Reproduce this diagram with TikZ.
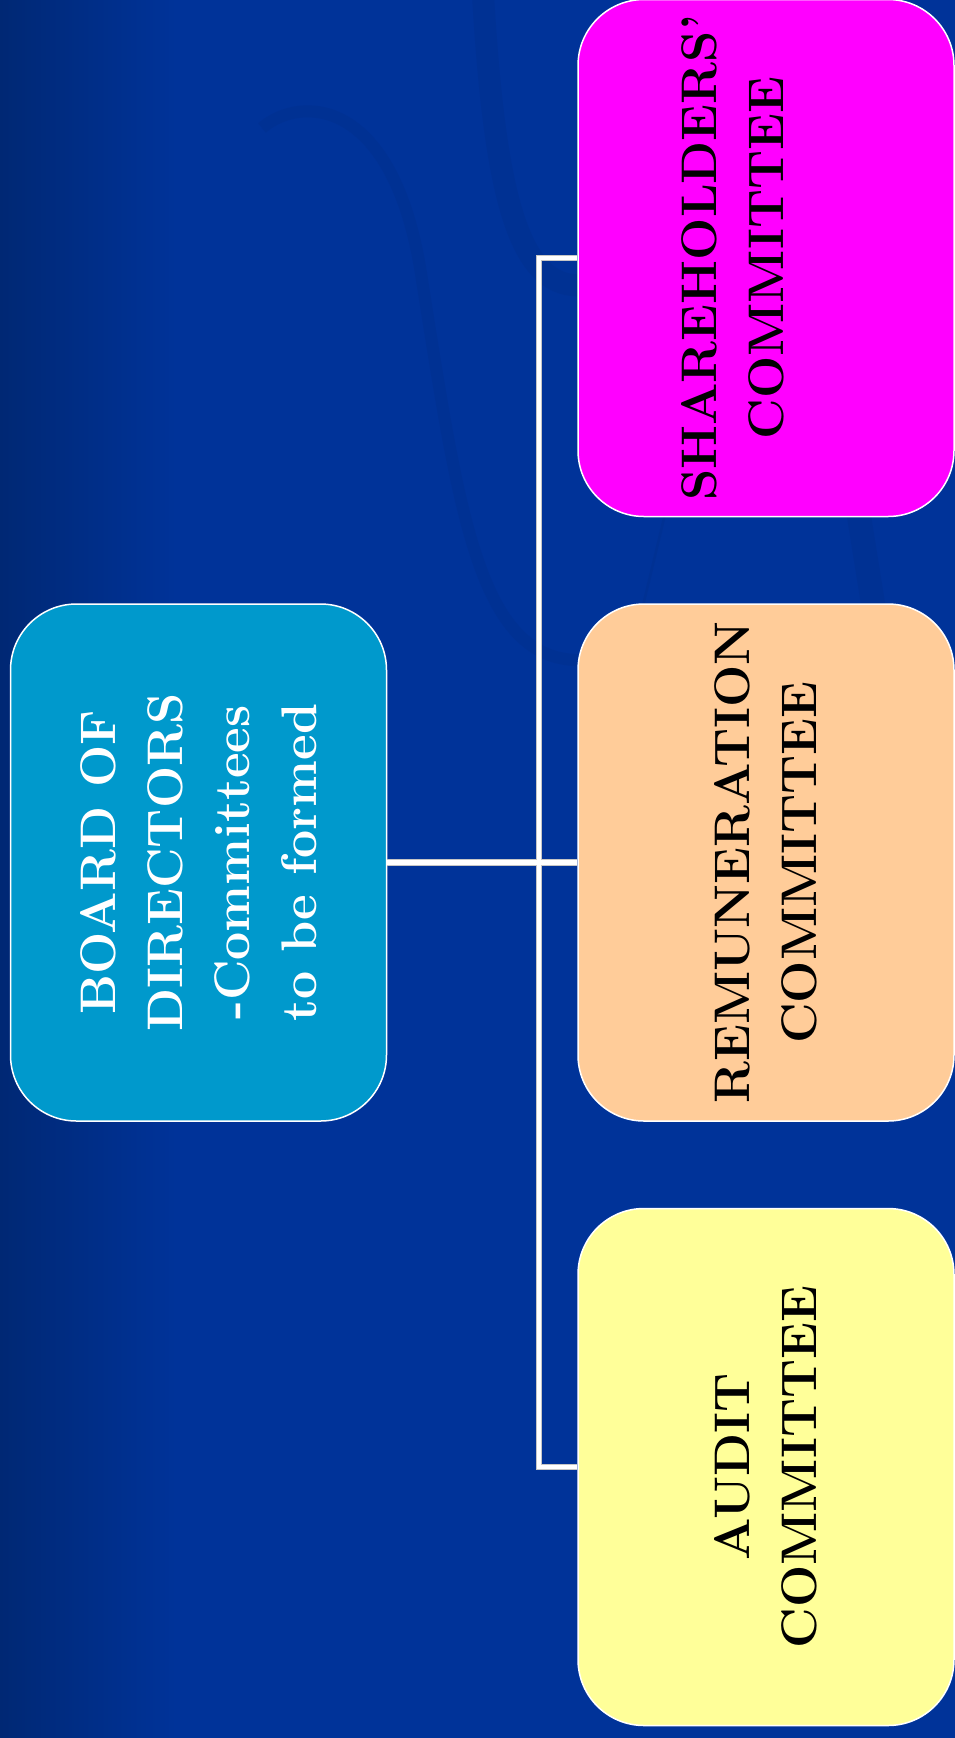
\documentclass[tikz,border=0pt]{standalone}
\usetikzlibrary{positioning}

\definecolor{slideblue}{HTML}{003399}
\definecolor{slidedark}{HTML}{002874}
\definecolor{swoosh}{HTML}{003193}
\definecolor{boardcol}{HTML}{0099CC}
\definecolor{sharecol}{HTML}{FF00FF}
\definecolor{remcol}{HTML}{FFCC99}
\definecolor{auditcol}{HTML}{FFFF99}

\tikzset{
	every picture/.style={line width=0.75pt},
	box/.style={rotate=90, draw=white, line width=1.5pt, rounded corners=66pt,
		minimum width=517pt, minimum height=376pt, inner sep=0pt, align=center,
		font=\fontsize{50}{67}\selectfont\bfseries},
	link/.style={line width=#1, line cap=butt}
}

\begin{document}
\begin{tikzpicture}[x=1pt,y=-1pt]
		\useasboundingbox (0,0) rectangle (955,1738);

		% background
		\fill[left color=slidedark, right color=slideblue] (0,0) rectangle (176,1738);
		\fill[slideblue] (175,0) rectangle (955,1738);
		\draw[swoosh, line width=22pt] (483,-5) .. controls (495,200) and (520,292) .. (585,285);
		\draw[swoosh, line width=12pt] (262,128) .. controls (300,95) and (395,95) .. (422,280);
		\draw[swoosh, line width=12pt] (422,280) .. controls (460,520) and (480,665) .. (585,660);
		\draw[swoosh, line width=2.5pt] (666,510) -- (642,610);
		\draw[swoosh, line width=24pt] (858,510) -- (874,610);

		% boxes
		\node[box, fill=boardcol, text=white] (board) at (198.5,862.5) {BOARD OF\\DIRECTORS\\-Committees\\to be formed};
		\node[box, fill=sharecol] (share) at (766,258) {SHAREHOLDERS’\\COMMITTEE\\\mbox{}};
		\node[box, fill=remcol] (rem) at (766,862.5) {REMUNERATION\\COMMITTEE};
		\node[box, fill=auditcol] (audit) at (766,1467) {AUDIT\\COMMITTEE};

		% connectors (grey rim, then white)
		\coordinate (trunk) at (539,0);
		\foreach \w/\c in {6.5pt/gray!45, 4.5pt/white} {
			\draw[link=\w, \c] (share.north) -- (share.north -| trunk) -- (audit.north -| trunk) -- (audit.north);
			\draw[link=\w, \c] (board.south) -- (rem.north);
		}
	\end{tikzpicture}
\end{document}
